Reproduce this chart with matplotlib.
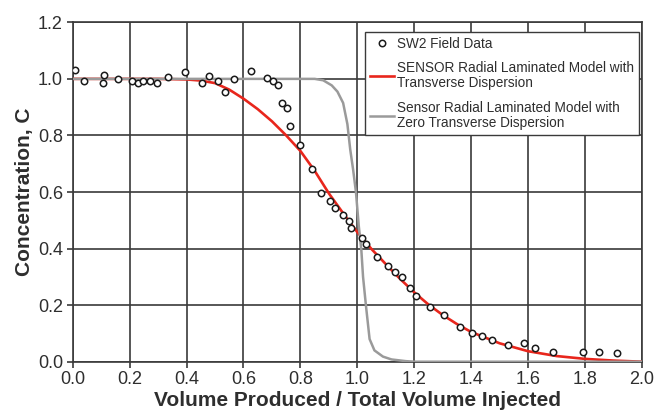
import matplotlib
matplotlib.use('Agg')
import matplotlib.pyplot as plt

plt.rcParams['font.family'] = ['Liberation Sans', 'DejaVu Sans']

# SW2 field data
field_x = [0.009, 0.041, 0.111, 0.106, 0.159, 0.210, 0.228, 0.246, 0.271, 0.296,
           0.335, 0.393, 0.454, 0.479, 0.509, 0.534, 0.565, 0.626, 0.682, 0.703,
           0.721, 0.734, 0.752, 0.765, 0.798, 0.839, 0.873, 0.904, 0.923, 0.948,
           0.969, 0.978, 1.015, 1.032, 1.070, 1.107, 1.131, 1.157, 1.185, 1.206,
           1.255, 1.304, 1.361, 1.401, 1.437, 1.474, 1.528, 1.587, 1.623, 1.688,
           1.793, 1.848, 1.912]
field_c = [1.032, 0.992, 1.012, 0.985, 1.000, 0.992, 0.985, 0.991, 0.993, 0.987,
           1.005, 1.025, 0.986, 1.010, 0.992, 0.955, 1.001, 1.027, 1.004, 0.992,
           0.978, 0.913, 0.898, 0.834, 0.766, 0.680, 0.597, 0.567, 0.542, 0.518,
           0.498, 0.471, 0.438, 0.416, 0.371, 0.338, 0.318, 0.298, 0.260, 0.232,
           0.192, 0.164, 0.123, 0.101, 0.090, 0.076, 0.060, 0.065, 0.049, 0.035,
           0.035, 0.035, 0.032]

# SENSOR model with transverse dispersion
disp_x = [0.0, 0.30, 0.40, 0.45, 0.50, 0.55, 0.60, 0.65, 0.70, 0.75, 0.80, 0.85,
          0.90, 0.95, 1.00, 1.05, 1.10, 1.15, 1.20, 1.25, 1.30, 1.35, 1.40, 1.50,
          1.60, 1.70, 1.80, 1.90, 2.00]
disp_c = [1.0, 1.0, 0.998, 0.994, 0.985, 0.962, 0.930, 0.893, 0.850, 0.800, 0.745,
          0.675, 0.595, 0.525, 0.458, 0.398, 0.345, 0.293, 0.245, 0.202, 0.165,
          0.133, 0.105, 0.065, 0.037, 0.020, 0.010, 0.004, 0.0]

# Sensor model with zero transverse dispersion
zero_x = [0.0, 0.85, 0.88, 0.91, 0.93, 0.95, 0.965, 0.975, 0.985, 0.995, 1.005,
          1.014, 1.020, 1.030, 1.043, 1.060, 1.090, 1.120, 1.170, 1.200, 2.0]
zero_c = [1.0, 1.0, 0.995, 0.977, 0.955, 0.915, 0.840, 0.750, 0.680, 0.600, 0.480,
          0.395, 0.300, 0.200, 0.080, 0.040, 0.018, 0.008, 0.002, 0.0, 0.0]

fig = plt.figure(figsize=(6.56, 4.17), dpi=100)
ax = fig.add_axes([0.1108, 0.1326, 0.8679, 0.8139])

txt = '#2e2e2e'
ax.plot(disp_x, disp_c, color='#e8261c', lw=1.9, zorder=3,
        label='SENSOR Radial Laminated Model with\nTransverse Dispersion')
ax.plot(zero_x, zero_c, color='#9a9a9a', lw=1.8, zorder=4,
        label='Sensor Radial Laminated Model with\nZero Transverse Dispersion')
ax.plot(field_x, field_c, 'o', mfc='white', mec='#1a1a1a', mew=1.1, ms=4.6,
        zorder=5, label='SW2 Field Data')

ax.set_xlim(0, 2.0)
ax.set_ylim(0, 1.2)
ax.set_xticks([0.0, 0.2, 0.4, 0.6, 0.8, 1.0, 1.2, 1.4, 1.6, 1.8, 2.0])
ax.set_yticks([0.0, 0.2, 0.4, 0.6, 0.8, 1.0, 1.2])
ax.set_xticklabels(['0.0', '0.2', '0.4', '0.6', '0.8', '1.0', '1.2', '1.4', '1.6', '1.8', '2.0'])
ax.set_yticklabels(['0.0', '0.2', '0.4', '0.6', '0.8', '1.0', '1.2'])
ax.grid(True, color='#3a3a3a', lw=1.2)
ax.set_axisbelow(True)
for s in ax.spines.values():
    s.set_color('#3a3a3a')
    s.set_linewidth(1.2)
ax.tick_params(direction='out', length=4, width=1.2, color='#3a3a3a',
               labelsize=13, labelcolor=txt, pad=3)

ax.set_xlabel('Volume Produced / Total Volume Injected', fontsize=15,
              fontweight='bold', color=txt, labelpad=2)
ax.set_ylabel('Concentration, C', fontsize=15, fontweight='bold', color=txt,
              labelpad=3)

handles, labels = ax.get_legend_handles_labels()
order = [2, 0, 1]
leg = ax.legend([handles[i] for i in order], [labels[i] for i in order],
                loc='upper right', bbox_to_anchor=(0.994, 0.972),
                borderaxespad=0, fontsize=9.8, fancybox=False, framealpha=1,
                edgecolor='#3a3a3a', handlelength=1.8, handletextpad=0.2,
                labelspacing=0.75, borderpad=0.35)
leg.get_frame().set_linewidth(1.0)
leg._legend_box.sep = 0
for t in leg.get_texts():
    t.set_color(txt)
    t.set_linespacing(1.15)

fig.savefig('out.png', dpi=100)
